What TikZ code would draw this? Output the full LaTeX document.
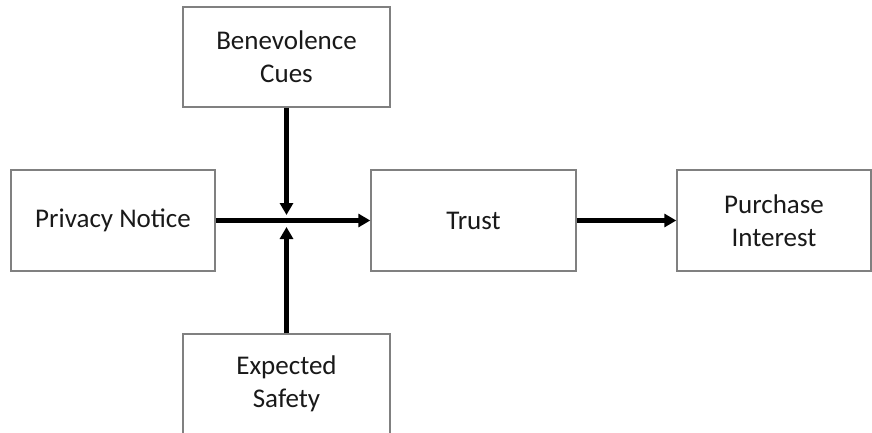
\documentclass[tikz,border=0pt]{standalone}
\usepackage{fontspec}
\setmainfont{Carlito}
\usetikzlibrary{arrows.meta}
\begin{document}
\begin{tikzpicture}[x=1pt,y=-1pt,
  boxnode/.style={draw=black!50, line width=1.4pt, fill=white, inner sep=0pt,
    align=center, font=\fontsize{27}{33}\selectfont, text=black!90},
  arr/.style={line width=4.6pt, -{Triangle[width=13pt,length=12pt]}}]
\useasboundingbox (0,0) rectangle (872,433);
\begin{scope}
\clip (0,0) rectangle (872,433);
\node[boxnode, minimum width=207pt, minimum height=100pt] (ben) at (286.5,57) {Benevolence\\Cues};
\node[boxnode, minimum width=204pt, minimum height=101pt] (priv) at (113,220.5) {Privacy Notice};
\node[boxnode, minimum width=205pt, minimum height=101pt] (trust) at (473.5,220.5) {Trust};
\node[boxnode, minimum width=194pt, minimum height=101pt] (purch) at (774,220.5) {Purchase\\Interest};
\node[boxnode, minimum width=207pt, minimum height=100pt] (exp) at (286.5,384) {Expected\\Safety};
\end{scope}
\coordinate (jtop) at (286.5,215);
\coordinate (jbot) at (286.5,227);
\draw[arr] (ben.south) -- (jtop);
\draw[arr] (exp.north) -- (jbot);
\draw[arr] (priv.east) -- (trust.west);
\draw[arr] (trust.east) -- (purch.west);
\end{tikzpicture}
\end{document}
